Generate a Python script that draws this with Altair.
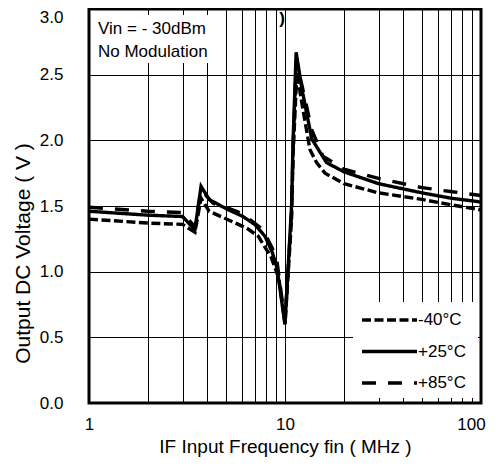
import altair as alt
import pandas as pd

FONT = "Liberation Sans"

series = ["-40°C", "+25°C", "+85°C"]

freq_m40 = [1, 2, 3.0, 3.47, 3.73, 4.1, 5.4, 6.4, 7.3, 8.5, 9.3, 10.0, 10.8, 11.0, 11.5, 12.2, 13.4, 14.5, 16, 20, 30, 50, 70, 100]
volt_m40 = [1.40, 1.37, 1.36, 1.30, 1.56, 1.46, 1.38, 1.33, 1.27, 1.11, 0.95, 0.60, 1.40, 1.90, 2.52, 2.28, 1.93, 1.83, 1.75, 1.67, 1.60, 1.55, 1.51, 1.47]

freq_p25 = [1, 2, 3.0, 3.47, 3.73, 4.1, 5.0, 6.1, 7.0, 7.9, 8.6, 9.1, 10.0, 10.8, 11.0, 11.4, 12.2, 13.7, 16.3, 20, 30, 50, 70, 100]
volt_p25 = [1.46, 1.43, 1.42, 1.32, 1.65, 1.55, 1.48, 1.42, 1.36, 1.27, 1.15, 1.03, 0.60, 1.50, 2.00, 2.67, 2.39, 2.01, 1.83, 1.76, 1.67, 1.60, 1.56, 1.53]

freq_p85 = [1, 2, 3.0, 3.47, 3.73, 4.3, 5.0, 6.1, 7.7, 8.6, 9.1, 10.0, 10.8, 11.0, 11.4, 12.2, 13.7, 15.6, 20, 30, 50, 70, 100]
volt_p85 = [1.49, 1.46, 1.45, 1.34, 1.62, 1.52, 1.49, 1.44, 1.32, 1.18, 1.08, 0.62, 1.45, 1.95, 2.60, 2.42, 2.08, 1.88, 1.78, 1.71, 1.64, 1.61, 1.58]

x_ticks = [1, 2, 3, 4, 5, 6, 7, 8, 9, 10, 20, 30, 40, 50, 60, 70, 80, 90, 100]
y_ticks = [0.0, 0.5, 1.0, 1.5, 2.0, 2.5, 3.0]
note_lines = ["Vin = - 30dBm", "No Modulation"]
dash_patterns = [[9, 3.5], [1, 0], [14, 12]]

rows = []
for name, fs, vs in [(series[0], freq_m40, volt_m40), (series[1], freq_p25, volt_p25), (series[2], freq_p85, volt_p85)]:
    for f, v in zip(fs, vs):
        rows.append({"series": name, "freq": f, "volt": v})
df = pd.DataFrame(rows)

dash_scale = alt.Scale(domain=series, range=dash_patterns)
one = pd.DataFrame({"a": [0]})

x_axis = alt.Axis(
    values=x_ticks,
    labelExpr="(datum.value == 1 || datum.value == 10 || datum.value == 100) ? format(datum.value, 'd') : ''",
    grid=True, gridColor="black", gridWidth=1, gridOpacity=1,
    ticks=False, domain=False, labelOverlap=False, labelFlush=False,
    labelFont=FONT, labelFontSize=17, labelColor="black", labelPadding=13.5,
    labelOffset={"condition": {"test": "datum.value == 100", "value": -10}, "value": 0},
    title="IF Input Frequency fin ( MHz )", titleFont=FONT, titleFontSize=19,
    titleFontWeight="normal", titleColor="black", titleY=49, titleBaseline="alphabetic",
)
y_axis = alt.Axis(
    values=y_ticks, format=".1f",
    grid=True, gridColor="black", gridWidth=1, gridOpacity=1,
    ticks=False, domain=False, labelOverlap=False, labelFlush=False,
    labelFont=FONT, labelFontSize=17, labelColor="black", labelPadding=26,
    labelBaseline={"condition": {"test": "datum.value >= 3", "value": "top"}, "value": "middle"},
    title="Output DC Voltage ( V )", titleFont=FONT, titleFontSize=21,
    titleFontWeight="normal", titleColor="black", titleX=-60, titleY=244,
    titleBaseline="alphabetic", titleAlign="center",
)

lines = alt.Chart(df).mark_line(strokeWidth=3.4, color="black", strokeCap="butt", clip=True).encode(
    x=alt.X("freq:Q", scale=alt.Scale(type="log", domain=[1, 100], nice=False), axis=x_axis),
    y=alt.Y("volt:Q", scale=alt.Scale(domain=[0, 3], nice=False), axis=y_axis),
    strokeDash=alt.StrokeDash("series:N", scale=dash_scale, legend=None),
    detail="series:N",
)

note_box = alt.Chart(one).mark_rect(color="white").encode(
    x=alt.value(2), x2=alt.value(127), y=alt.value(6), y2=alt.value(54)
)
note_text = alt.Chart(one).mark_text(
    text=note_lines, align="left", baseline="alphabetic", font=FONT, fontSize=17,
    lineHeight=22.7, color="black"
).encode(x=alt.value(9), y=alt.value(25))

paren = alt.Chart(one).mark_text(
    text=")", align="center", baseline="middle", font=FONT, fontSize=17, fontWeight="bold", color="black"
).encode(x=alt.value(193), y=alt.value(9.5))

leg_df = pd.DataFrame({"series": series, "row": [0, 1, 2]})
leg_box = alt.Chart(one).mark_rect(color="white").encode(
    x=alt.value(264), x2=alt.value(389), y=alt.value(293), y2=alt.value(389)
)
leg_rules = alt.Chart(leg_df).transform_calculate(ypx="311 + datum.row * 31.5").mark_rule(
    strokeWidth=3.4, color="black", strokeCap="butt"
).encode(
    x=alt.value(273), x2=alt.value(328),
    y=alt.Y("ypx:Q", scale=None, axis=None),
    strokeDash=alt.StrokeDash("series:N", scale=dash_scale, legend=None),
)
leg_text = alt.Chart(leg_df).transform_calculate(ypx="311 + datum.row * 31.5").mark_text(
    align="left", baseline="middle", font=FONT, fontSize=17, color="black"
).encode(
    x=alt.value(329),
    y=alt.Y("ypx:Q", scale=None, axis=None),
    text="series:N",
)

chart = alt.layer(note_box, note_text, paren, lines, leg_box, leg_rules, leg_text).properties(
    width=392, height=394,
    autosize=alt.AutoSizeParams(type="none"),
    padding={"left": 81, "top": 1, "right": 10, "bottom": 56},
    background="white",
).configure_view(stroke="black", strokeWidth=3)

chart.save("out.html", embed_options={"renderer": "svg", "actions": False})
